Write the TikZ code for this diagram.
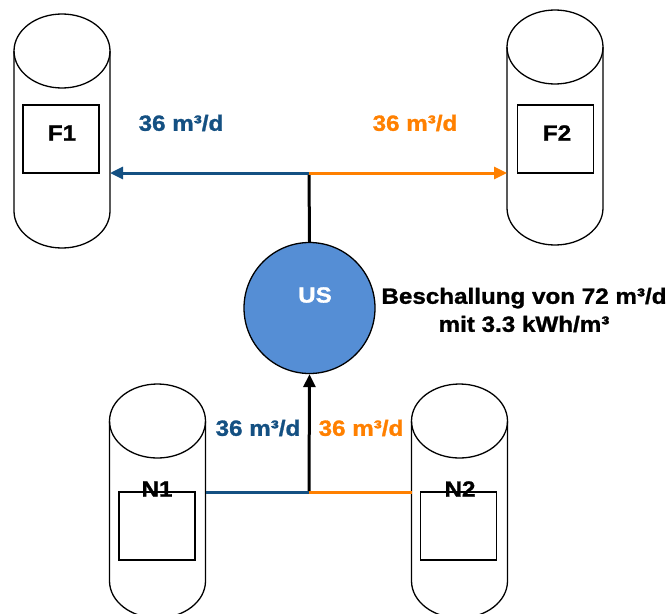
\documentclass[tikz,border=0pt]{standalone}
\usepackage{fontspec}
\setmainfont{Liberation Sans}[BoldFeatures={FakeBold=1.2, FakeStretch=1.1}]
\usepackage{xcolor}
\usepackage{tikz}
\usetikzlibrary{arrows.meta, positioning, calc}

\definecolor{flowblue}{RGB}{20,80,130}
\definecolor{floworange}{RGB}{255,128,0}
\definecolor{usblue}{RGB}{85,142,213}

\tikzset{
  tank/.style={black, line width=1.3pt},
  tankbox/.style={draw, black, line width=1.3pt, minimum width=76pt, minimum height=68pt, inner sep=0pt},
  bigtext/.style={font=\bfseries\fontsize{22}{28}\selectfont},
  flow/.style={line width=3pt},
  flowtip/.style={-{Triangle[length=13pt,width=12pt]}}
}

\begin{document}
\begin{tikzpicture}[x=1pt, y=-1pt]
  \useasboundingbox (0,0) rectangle (668,613);

  % tanks: centre x, top ellipse y, bottom arc y
  \foreach \cx/\ty/\by in {62/51/211, 555/47/208, 157.5/421/581, 459.5/421/581} {
    \draw[tank] (\cx,\ty) ellipse [x radius=48, y radius=37];
    \draw[tank] (\cx-48,\ty) -- (\cx-48,\by)
      arc[start angle=180, end angle=0, x radius=48, y radius=37]
      -- (\cx+48,\ty);
  }

  % boxes inside the tanks
  \node[tankbox] (f1box) at (61,139) {};
  \node[tankbox] (f2box) at (555.5,139) {};
  \node[tankbox] (n1box) at (157,526) {};
  \node[tankbox] (n2box) at (458.5,526) {};
  \node[bigtext] (f1) at (62,133) {F1};
  \node[bigtext] (f2) at (557,133) {F2};
  \node[bigtext] (n1) at (157,489) {N1};
  \node[bigtext] (n2) at (460,489) {N2};

  % ultrasound unit
  \node[circle, draw, black, line width=1.3pt, fill=usblue, minimum size=131pt, inner sep=0pt] (us) at (309.5,308) {};
  \node[bigtext, white] (uslabel) at (315,295) {US};
  \node[bigtext, align=center] (sono) at (524,310) {Beschallung von 72 m³/d\\mit 3.3 kWh/m³};

  % pipe ends
  \coordinate (jt) at (309,173);
  \coordinate (jb) at (309,492);
  \coordinate (f1in) at (110,173);
  \coordinate (f2in) at (507,173);
  \coordinate (n1out) at (206,492);
  \coordinate (n2out) at (412,492);

  % flows
  \draw[flow, black] (us.north) -- (jt);
  \draw[flow, flowtip, flowblue] (jt) -- (f1in);
  \draw[flow, flowtip, floworange] (jt) -- (f2in);
  \draw[flow, flowtip, black] (jb) -- (us.south);
  \draw[flow, flowblue] (n1out) -- (jb);
  \draw[flow, floworange] (jb) -- (n2out);

  % flow labels
  \node[bigtext, flowblue] (qf1) at (181,123) {36 m³/d};
  \node[bigtext, floworange] (qf2) at (415,123) {36 m³/d};
  \node[bigtext, flowblue] (qn1) at (258,428) {36 m³/d};
  \node[bigtext, floworange] (qn2) at (361,428) {36 m³/d};
\end{tikzpicture}
\end{document}
